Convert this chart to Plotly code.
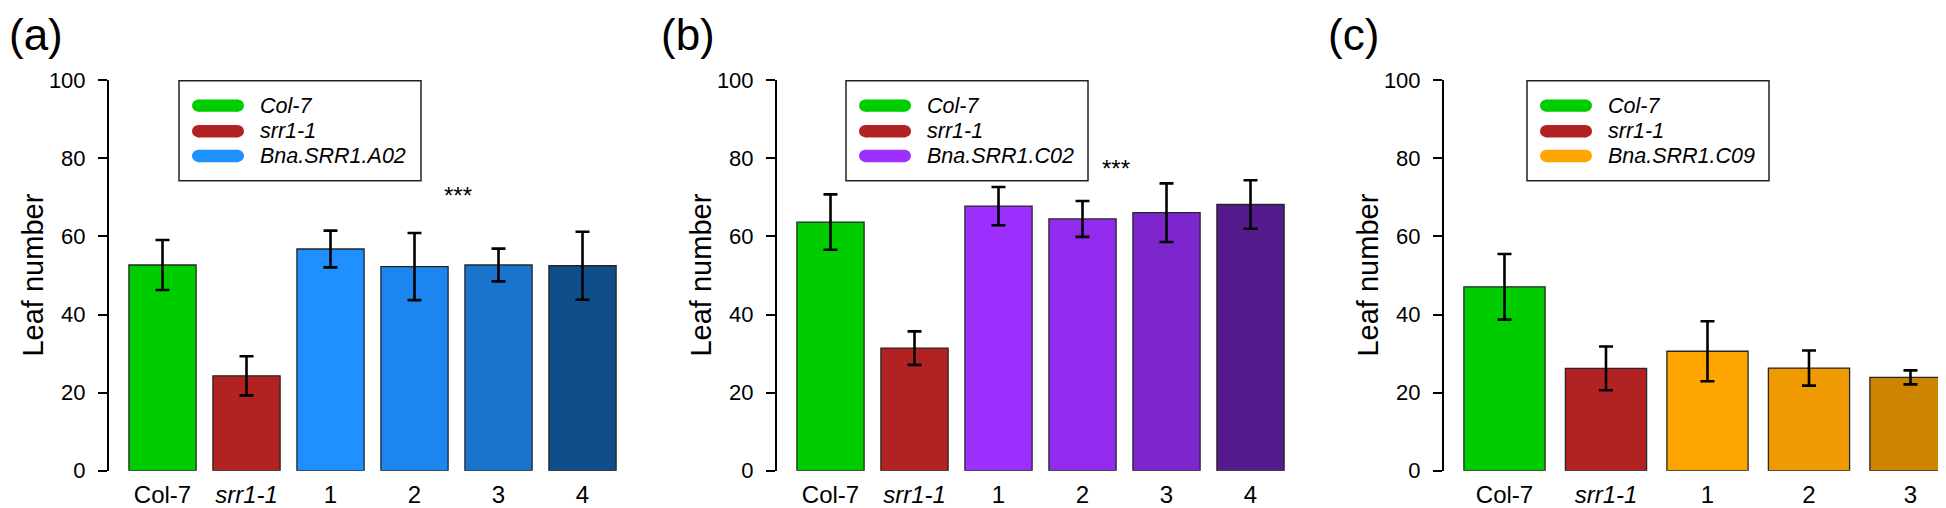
import plotly.graph_objects as go

W, H = 1946, 508
FONT = "Liberation Sans, Arial, Helvetica, sans-serif"

# ---------------- data ----------------
cats_a = ["Col-7", "srr1-1", "1", "2", "3", "4"]
vals_a = [52.7, 24.3, 56.8, 52.3, 52.7, 52.5]
errs_a = [6.4, 5.0, 4.7, 8.6, 4.2, 8.7]
cols_a = ["#00CD00", "#B22222", "#1E90FF", "#1C86EE", "#1874CD", "#104E8B"]
legend_a = ["Col-7", "srr1-1", "Bna.SRR1.A02"]

cats_b = ["Col-7", "srr1-1", "1", "2", "3", "4"]
vals_b = [63.7, 31.4, 67.8, 64.5, 66.1, 68.2]
errs_b = [7.1, 4.3, 4.9, 4.6, 7.5, 6.2]
cols_b = ["#00CD00", "#B22222", "#9B30FF", "#912CEE", "#7D26CD", "#551A8B"]
legend_b = ["Col-7", "srr1-1", "Bna.SRR1.C02"]

cats_c = ["Col-7", "srr1-1", "1", "2", "3"]
vals_c = [47.1, 26.2, 30.6, 26.3, 23.9]
errs_c = [8.4, 5.6, 7.7, 4.5, 1.8]
cols_c = ["#00CD00", "#B22222", "#FFA500", "#EE9A00", "#CD8500"]
legend_c = ["Col-7", "srr1-1", "Bna.SRR1.C09"]

y_ticks = [0, 20, 40, 60, 80, 100]
# ---------------------------------------

def px_x(p):
    return p / W

def px_y(p):
    return 1 - p / H

panels = [
    dict(label="(a)", cats=cats_a, vals=vals_a, errs=errs_a, cols=cols_a, leg=legend_a,
         axis_px=101, slot=84.0, x0=-0.637, label_px=0, label_shift=0,
         leg_px=171, star=(3.52, 69)),
    dict(label="(b)", cats=cats_b, vals=vals_b, errs=errs_b, cols=cols_b, leg=legend_b,
         axis_px=769, slot=84.0, x0=-0.637, label_px=656, label_shift=-4,
         leg_px=838, star=(3.4, 76)),
    dict(label="(c)", cats=cats_c, vals=vals_c, errs=errs_c, cols=cols_c, leg=legend_c,
         axis_px=1436, slot=101.5, x0=-0.596, label_px=1323, label_shift=-4,
         leg_px=1519, star=None),
]

Y_TOP, Y_BOT = 63.5, 474.0

fig = go.Figure()
shapes = []
annotations = []

for i, p in enumerate(panels):
    n = len(p["cats"])
    xr_end = min(W, p["axis_px"] + (n - 0.5 + 0.05 + 0.637) * p["slot"])
    x1 = p["x0"] + (xr_end - p["axis_px"]) / p["slot"]
    xa = "x" if i == 0 else f"x{i+1}"
    ya = "y" if i == 0 else f"y{i+1}"
    xkey = "xaxis" if i == 0 else f"xaxis{i+1}"
    ykey = "yaxis" if i == 0 else f"yaxis{i+1}"

    fig.add_trace(go.Bar(
        x=list(range(n)), y=p["vals"], width=0.8,
        marker=dict(color=p["cols"], line=dict(color="#262626", width=1.3)),
        error_y=dict(type="data", array=p["errs"], visible=True,
                     color="black", thickness=2.6, width=7),
        xaxis=xa, yaxis=ya, showlegend=False, hoverinfo="skip",
    ))

    ticktext = [f"<i>{c}</i>" if c.startswith("srr") else c for c in p["cats"]]
    fig.update_layout(**{
        xkey: dict(domain=[px_x(p["axis_px"]), px_x(xr_end)], range=[p["x0"], x1],
                   tickvals=list(range(n)), ticktext=ticktext,
                   showline=False, showgrid=False, zeroline=False,
                   ticks="outside", ticklen=3, tickcolor="rgba(0,0,0,0)",
                   tickfont=dict(family=FONT, size=24, color="black"),
                   anchor=ya, fixedrange=True),
        ykey: dict(domain=[px_y(Y_BOT), px_y(Y_TOP)], range=[0, 100],
                   tickvals=y_ticks, showline=True, linecolor="black", linewidth=2,
                   ticks="outside", ticklen=9, tickwidth=2, tickcolor="black",
                   ticklabelstandoff=8,
                   showgrid=False, zeroline=False,
                   tickfont=dict(family=FONT, size=22, color="black"),
                   anchor=xa, fixedrange=True),
    })

    # axis title
    annotations.append(dict(
        text="Leaf number", textangle=-90, xref="paper", yref="paper",
        x=px_x(p["axis_px"] - 76), y=px_y((Y_TOP + Y_BOT) / 2),
        xanchor="center", yanchor="middle", showarrow=False,
        font=dict(family=FONT, size=29, color="black")))

    # panel label
    annotations.append(dict(
        text=p["label"], xref="paper", yref="paper",
        x=px_x(p["label_px"]), y=1, xanchor="left", yanchor="top",
        yshift=11, xshift=p["label_shift"], showarrow=False, borderpad=0,
        font=dict(family=FONT, size=44, color="black")))

    # significance stars
    if p["star"] is not None:
        sx, sy = p["star"]
        annotations.append(dict(
            text="***", xref=xa, yref=ya, x=sx, y=sy,
            xanchor="center", yanchor="middle", showarrow=False,
            font=dict(family=FONT, size=24, color="black"), yshift=6))

    # legend box
    L = p["leg_px"]
    shapes.append(dict(type="rect", xref="paper", yref="paper",
                       x0=px_x(L), x1=px_x(L + 242), y0=px_y(169), y1=px_y(64),
                       line=dict(color="#222222", width=1.5), fillcolor="white"))
    leg_cols = [p["cols"][0], p["cols"][1], p["cols"][2]]
    for k, (name, col) in enumerate(zip(p["leg"], leg_cols)):
        cy = [90, 117, 143][k]
        r = 6.5
        sx0, sx1 = L + 13, L + 65
        shapes.append(dict(type="rect", xref="paper", yref="paper",
                           x0=px_x(sx0 + r), x1=px_x(sx1 - r),
                           y0=px_y(cy + r), y1=px_y(cy - r),
                           line=dict(width=0), fillcolor=col))
        for ccx in (sx0 + r, sx1 - r):
            shapes.append(dict(type="circle", xref="paper", yref="paper",
                               x0=px_x(ccx - r), x1=px_x(ccx + r),
                               y0=px_y(cy + r), y1=px_y(cy - r),
                               line=dict(width=0), fillcolor=col))
        annotations.append(dict(
            text=f"<i>{name}</i>", xref="paper", yref="paper",
            x=px_x(L + 79), y=px_y(cy), xanchor="left", yanchor="middle",
            showarrow=False, font=dict(family=FONT, size=21.5, color="black")))

fig.update_layout(
    width=W, height=H, margin=dict(l=0, r=0, t=0, b=0),
    paper_bgcolor="white", plot_bgcolor="white",
    shapes=shapes, annotations=annotations, bargap=0.2,
    font=dict(family=FONT),
)

fig.write_html("out.html")
